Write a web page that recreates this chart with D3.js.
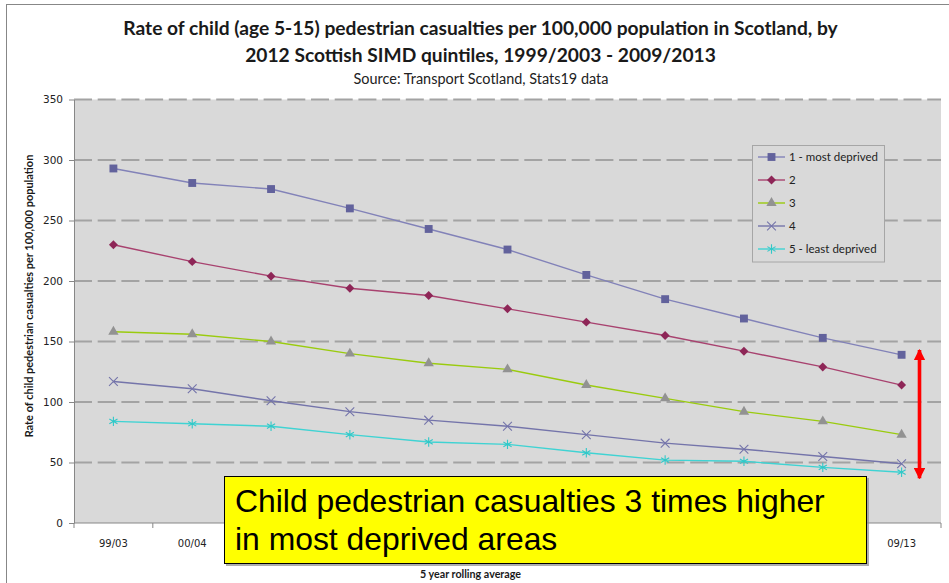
<!DOCTYPE html>
<html>
<head>
<meta charset="utf-8">
<script src="https://cdn.jsdelivr.net/npm/d3@7"></script>
<style>
  html, body { margin: 0; padding: 0; background: #ffffff; }
  svg { display: block; }
</style>
</head>
<body>
<svg id="chart" width="949" height="583"></svg>
<script>
// Five-year rolling periods (x axis)
const periods = ["99/03", "00/04", "01/05", "02/06", "03/07", "04/08", "05/09", "06/10", "07/11", "08/12", "09/13"];

// Rate per 100,000 population, by SIMD quintile
const quintile1 = [293, 281, 276, 260, 243, 226, 205, 185, 169, 153, 139];
const quintile2 = [230, 216, 204, 194, 188, 177, 166, 155, 142, 129, 114];
const quintile3 = [158, 156, 150, 140, 132, 127, 114, 103, 92, 84, 73];
const quintile4 = [117, 111, 101, 92, 85, 80, 73, 66, 61, 55, 49];
const quintile5 = [84, 82, 80, 73, 67, 65, 58, 52, 51, 46, 42];

const seriesNames = ["1 - most deprived", "2", "3", "4", "5 - least deprived"];
const yTicks = [0, 50, 100, 150, 200, 250, 300, 350];

// Range shown by the red double arrow at the last period
const gapTop = 143, gapBottom = 37;

const titleLines = [
  "Rate of child (age 5-15) pedestrian casualties per 100,000 population in Scotland, by",
  "2012 Scottish SIMD quintiles, 1999/2003 - 2009/2013"
];
const subtitle = "Source: Transport Scotland, Stats19 data";
const yTitle = "Rate of child pedestrian casualties per 100,000 population";
const xTitle = "5 year rolling average";
const noteLines = ["Child pedestrian casualties 3 times higher", "in most deprived areas"];

const allSeries = [quintile1, quintile2, quintile3, quintile4, quintile5];

const styles = [
  { line: "#8282b8", mark: "#62629c", shape: "square" },
  { line: "#a8426f", mark: "#8e2657", shape: "diamond" },
  { line: "#9acb0e", mark: "#929292", shape: "triangle" },
  { line: "#7474aa", mark: "#7474aa", shape: "times" },
  { line: "#3fd3d3", mark: "#30c8c8", shape: "asterisk" }
];

const svg = d3.select("#chart");
const plot = { left: 74, right: 941, top: 99.5, bottom: 523 };

const titleFont = "Lato, 'Open Sans', sans-serif";
const axisFont = "'DejaVu Sans', Verdana, sans-serif";

function fitWidth(sel, w) {
  const node = sel.node();
  const fs = parseFloat(sel.attr("font-size"));
  const len = node.getComputedTextLength();
  sel.attr("font-size", (fs * w / len).toFixed(2));
}

// Outer chart frame
svg.append("rect")
  .attr("x", 6.5).attr("y", 4.5).attr("width", 960).attr("height", 600)
  .attr("fill", "#ffffff").attr("stroke", "#878787").attr("stroke-width", 1);

// Scales
const x = d3.scaleBand().domain(periods).range([plot.left, plot.right]);
const y = d3.scaleLinear().domain([0, 350]).range([plot.bottom, plot.top]);
const cx = d => x(d) + x.bandwidth() / 2;

// Plot area
svg.append("rect")
  .attr("x", plot.left).attr("y", plot.top)
  .attr("width", plot.right - plot.left).attr("height", plot.bottom - plot.top)
  .attr("fill", "#d9d9d9");

// Dashed gridlines
svg.append("g").selectAll("line")
  .data(yTicks.filter(t => t > 0))
  .join("line")
  .attr("x1", plot.left).attr("x2", plot.right)
  .attr("y1", d => y(d)).attr("y2", d => y(d))
  .attr("stroke", "#a3a3a3").attr("stroke-width", 1.8)
  .attr("stroke-dasharray", "18,5.7");

// Y axis
const yAxis = svg.append("g")
  .attr("transform", `translate(${plot.left},0)`)
  .call(d3.axisLeft(y).tickValues(yTicks).tickSize(5).tickPadding(6).tickSizeOuter(0));
yAxis.select(".domain").attr("stroke", "#878787");
yAxis.selectAll(".tick line").attr("stroke", "#878787");
yAxis.selectAll(".tick text")
  .attr("font-family", axisFont).attr("font-size", 10.5).attr("fill", "#222");

// X axis: ticks at band boundaries
const xAxis = svg.append("g").attr("transform", `translate(0,${plot.bottom})`);
xAxis.append("line")
  .attr("x1", plot.left).attr("x2", plot.right)
  .attr("stroke", "#878787");
const bounds = periods.map(p => x(p)).concat([plot.right]);
xAxis.selectAll("line.tk").data(bounds).join("line").attr("class", "tk")
  .attr("x1", d => d).attr("x2", d => d).attr("y1", 0).attr("y2", 5)
  .attr("stroke", "#878787");
xAxis.selectAll("text").data(periods).join("text")
  .attr("x", d => cx(d)).attr("y", 24)
  .attr("text-anchor", "middle")
  .attr("font-family", axisFont).attr("font-size", 10).attr("fill", "#222")
  .text(d => d);

// Series lines and markers
const lineGen = d3.line().x((d, i) => cx(periods[i])).y(d => y(d));

function markerPath(shape) {
  switch (shape) {
    case "square": return d3.symbol(d3.symbolSquare, 62)();
    case "diamond": return d3.symbol(d3.symbolSquare, 40)();
    case "triangle": return d3.symbol(d3.symbolTriangle, 46)();
    case "times": return d3.symbol(d3.symbolTimes, 52)();
    case "asterisk": return d3.symbol(d3.symbolAsterisk, 62)();
  }
}

function drawMarker(g, shape, color) {
  const p = g.append("path").attr("d", markerPath(shape));
  if (shape === "times" || shape === "asterisk") {
    p.attr("fill", "none").attr("stroke", color).attr("stroke-width", 1.1);
  } else {
    p.attr("fill", color);
  }
  if (shape === "diamond") p.attr("transform", "rotate(45)");
  return p;
}

allSeries.forEach((vals, k) => {
  const st = styles[k];
  const g = svg.append("g");
  g.append("path").datum(vals)
    .attr("d", lineGen)
    .attr("fill", "none").attr("stroke", st.line).attr("stroke-width", 1.4);
  vals.forEach((v, i) => {
    const m = g.append("g").attr("transform", `translate(${cx(periods[i])},${y(v)})`);
    drawMarker(m, st.shape, st.mark);
  });
});

// Legend
const legend = svg.append("g");
legend.append("rect")
  .attr("x", 752.5).attr("y", 145.5).attr("width", 132).attr("height", 116.5)
  .attr("fill", "#d9d9d9").attr("stroke", "#a6a6a6");
seriesNames.forEach((name, k) => {
  const ly = 157 + k * 23;
  const st = styles[k];
  legend.append("line")
    .attr("x1", 758).attr("x2", 785).attr("y1", ly).attr("y2", ly)
    .attr("stroke", st.line).attr("stroke-width", 1.4);
  const m = legend.append("g").attr("transform", `translate(771.5,${ly})`);
  drawMarker(m, st.shape, st.mark);
  legend.append("text")
    .attr("x", 789).attr("y", ly + 4)
    .attr("font-family", titleFont).attr("font-size", 11.5).attr("fill", "#222")
    .text(name);
});

// Red double arrow spanning the gap at the latest period
const ax = 919.5;
const defs = svg.append("defs");
defs.append("marker")
  .attr("id", "redHead").attr("viewBox", "0 0 10 10")
  .attr("refX", 9).attr("refY", 5)
  .attr("markerWidth", 3.2).attr("markerHeight", 3.2)
  .attr("markerUnits", "strokeWidth")
  .attr("orient", "auto-start-reverse")
  .append("path").attr("d", "M0,0 L10,5 L0,10 Z").attr("fill", "#ff0000");
svg.append("line")
  .attr("x1", ax).attr("x2", ax)
  .attr("y1", y(gapTop)).attr("y2", y(gapBottom))
  .attr("stroke", "#ff0000").attr("stroke-width", 3.6)
  .attr("marker-start", "url(#redHead)").attr("marker-end", "url(#redHead)");

// Titles
titleLines.forEach((t, i) => {
  const s = svg.append("text")
    .attr("x", 480.5).attr("y", 35 + i * 27)
    .attr("text-anchor", "middle")
    .attr("font-family", titleFont).attr("font-weight", "bold")
    .attr("font-size", 18).attr("fill", "#1a1a1a")
    .text(t);
  if (i === 0) fitWidth(s, 715);
});
const titleSize = svg.selectAll("text").filter(function () { return d3.select(this).text() === titleLines[0]; }).attr("font-size");
svg.selectAll("text").filter(function () { return d3.select(this).text() === titleLines[1]; }).attr("font-size", titleSize);

const sub = svg.append("text")
  .attr("x", 481).attr("y", 84)
  .attr("text-anchor", "middle")
  .attr("font-family", titleFont).attr("font-size", 13).attr("fill", "#222")
  .text(subtitle);
fitWidth(sub, 255);

const yt = svg.append("text")
  .attr("transform", "translate(33,296) rotate(-90)")
  .attr("text-anchor", "middle")
  .attr("font-family", titleFont).attr("font-weight", "bold")
  .attr("font-size", 11).attr("fill", "#1a1a1a")
  .text(yTitle);
fitWidth(yt, 283);

const xt = svg.append("text")
  .attr("x", 470.5).attr("y", 578)
  .attr("text-anchor", "middle")
  .attr("font-family", titleFont).attr("font-weight", "bold")
  .attr("font-size", 10).attr("fill", "#1a1a1a")
  .text(xTitle);
fitWidth(xt, 101);

// Highlight note box
const note = svg.append("g");
note.append("rect")
  .attr("x", 226).attr("y", 478).attr("width", 643).attr("height", 88)
  .attr("fill", "#8a8a8a").attr("opacity", 0.7);
note.append("rect")
  .attr("x", 224.5).attr("y", 476.5).attr("width", 642).attr("height", 87)
  .attr("fill", "#ffff00").attr("stroke", "#000000").attr("stroke-width", 1);
noteLines.forEach((t, i) => {
  const s = note.append("text")
    .attr("x", 235).attr("y", 512 + i * 38)
    .attr("font-family", "'Liberation Sans', Arial, sans-serif")
    .attr("font-size", 30).attr("fill", "#000")
    .text(t);
  if (i === 0) fitWidth(s, 590);
});
const noteSize = note.select("text").attr("font-size");
note.selectAll("text").attr("font-size", noteSize);
</script>
</body>
</html>
